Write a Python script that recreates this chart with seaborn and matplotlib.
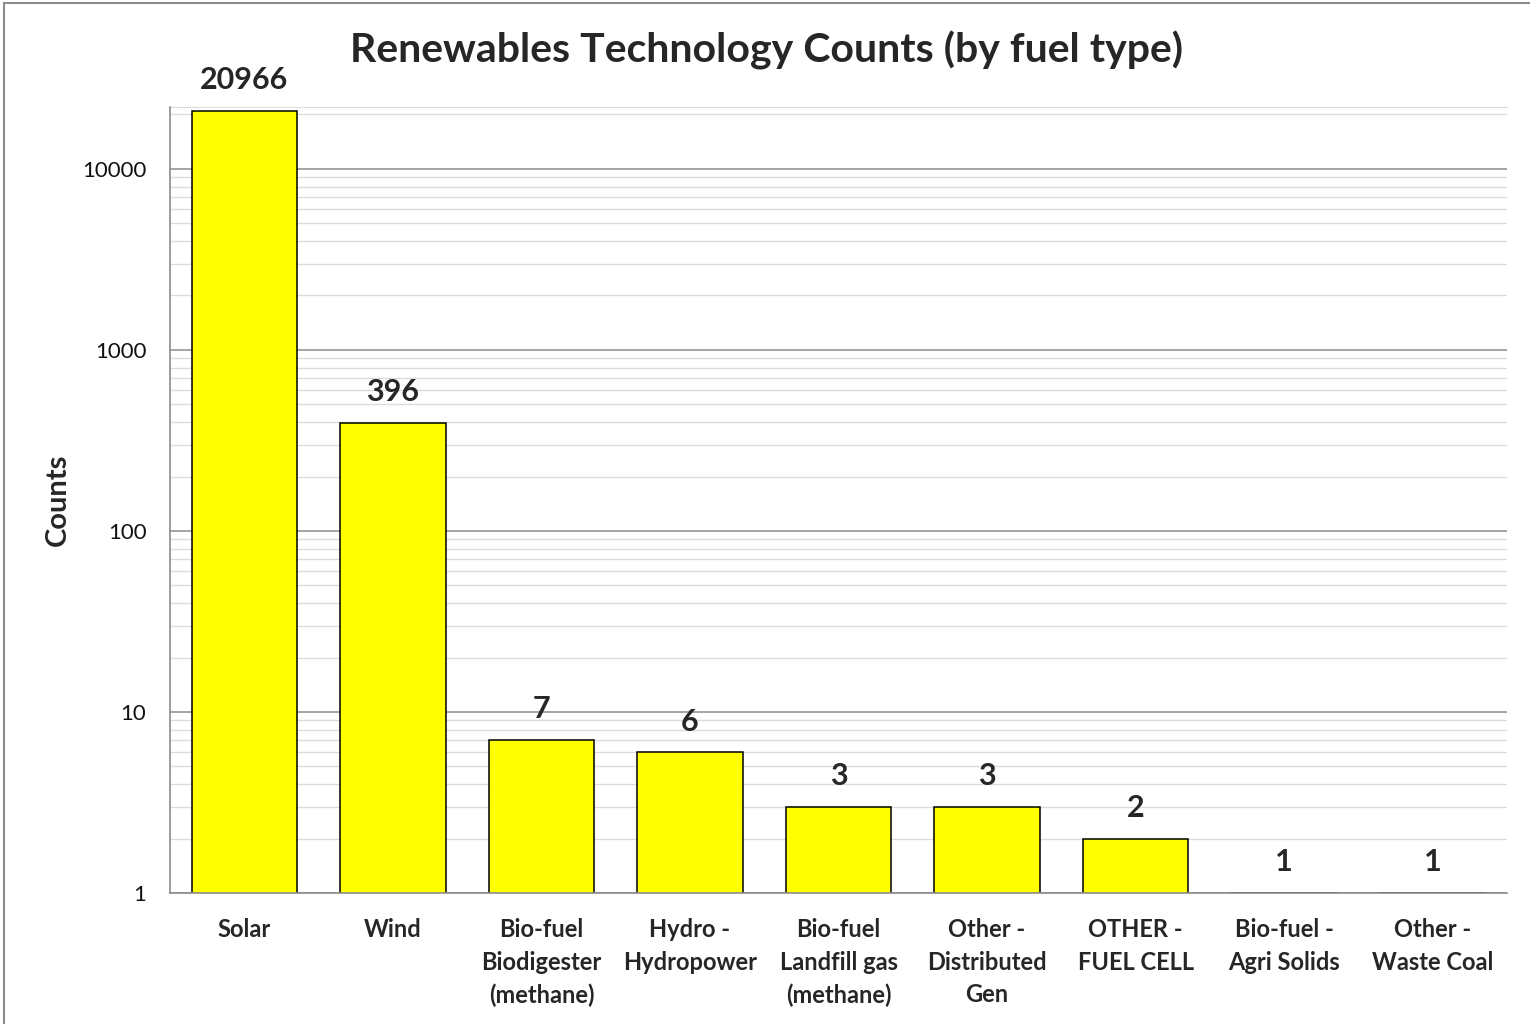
import matplotlib
matplotlib.use("Agg")
import matplotlib.pyplot as plt
import matplotlib.patches as mpatches
from matplotlib.ticker import LogLocator, FixedLocator, NullFormatter
import seaborn as sns
import pandas as pd

# Data
fuel_types = ["Solar", "Wind", "Bio-fuel\nBiodigester\n(methane)", "Hydro -\nHydropower",
              "Bio-fuel\nLandfill gas\n(methane)", "Other -\nDistributed\nGen",
              "OTHER -\nFUEL CELL", "Bio-fuel -\nAgri Solids", "Other -\nWaste Coal"]
counts = [20966, 396, 7, 6, 3, 3, 2, 1, 1]
y_ticks = [1, 10, 100, 1000, 10000]

df = pd.DataFrame({"fuel": fuel_types, "count": counts})

sns.set_style("white")
plt.rcParams["font.family"] = ["Lato", "DejaVu Sans"]

fig = plt.figure(figsize=(15.3, 10.24), dpi=100)
ax = fig.add_axes([170 / 1530, 1 - 893 / 1024, (1507 - 170) / 1530, (893 - 107) / 1024])

sns.barplot(data=df, x="fuel", y="count", color="#ffff00", width=0.71,
            edgecolor="black", linewidth=1.1, saturation=1, ax=ax, zorder=3)

ax.set_yscale("log")
ax.set_ylim(1, 22000)
ax.set_xlim(-0.5, len(fuel_types) - 0.5)

ax.yaxis.set_major_locator(FixedLocator(y_ticks))
ax.set_yticklabels([str(t) for t in y_ticks])
ax.yaxis.set_minor_locator(LogLocator(base=10, subs=range(2, 10)))
ax.yaxis.set_minor_formatter(NullFormatter())
ax.grid(which="major", axis="y", color="#8c8c8c", linewidth=1.1, zorder=0)
ax.grid(which="minor", axis="y", color="#dcdcdc", linewidth=1.0, zorder=0)
ax.set_axisbelow(True)

ax.tick_params(axis="y", which="both", length=0, labelsize=16, labelcolor="#111111", pad=17)
ax.tick_params(axis="x", length=0, labelsize=17, pad=18)
for lbl in ax.get_xticklabels():
    lbl.set_fontweight("bold")
    lbl.set_linespacing(1.5)

for side in ["left", "bottom"]:
    ax.spines[side].set_color("#8c8c8c")
    ax.spines[side].set_linewidth(1.2)
    ax.spines[side].set_zorder(4)
ax.spines["top"].set_color("#dcdcdc")
ax.spines["right"].set_visible(False)

ax.set_xlabel("")
ax.set_ylabel("")
fig.text(58 / 1530, 1 - 500 / 1024, "Counts", rotation=90, ha="center", va="center",
         fontsize=21, fontweight="bold")

# value labels above bars
for i, v in enumerate(counts):
    ax.annotate(str(v), xy=(i, v), xytext=(0, 22), textcoords="offset points",
                ha="center", va="center", fontsize=22, fontweight="bold")

fig.text(767 / 1530, 1 - 50 / 1024, "Renewables Technology Counts (by fuel type)",
         ha="center", va="center", fontsize=29.5, fontweight="bold")

# outer chart border
fig.patches.append(mpatches.Rectangle((4 / 1530, -0.05), 1.1, 1 - 3 / 1024 + 0.05,
                                      transform=fig.transFigure, fill=False,
                                      edgecolor="#8c8c8c", linewidth=1.5))

fig.savefig("out.png", dpi=100)
